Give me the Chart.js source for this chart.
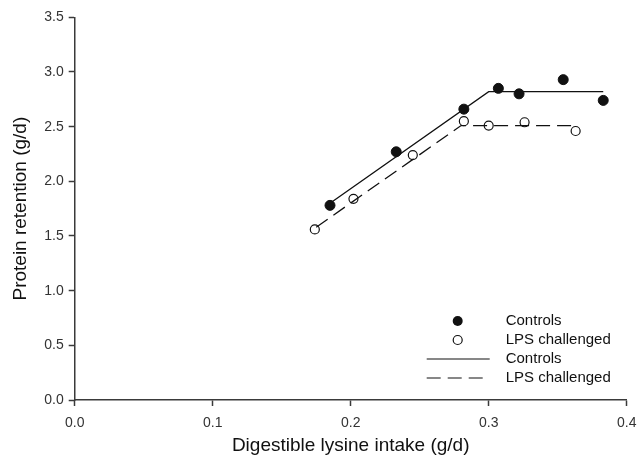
<!DOCTYPE html>
<html>
<head>
<meta charset="utf-8">
<title>Protein retention vs lysine intake</title>
<script src="https://cdn.jsdelivr.net/npm/chart.js@4.4.1/dist/chart.umd.min.js"></script>
<style>
    html, body { margin: 0; padding: 0; background: #ffffff; }
    #wrap { width: 637px; height: 455px; }
</style>
</head>
<body>
<div id="wrap"><canvas id="retentionChart" width="637" height="455"></canvas></div>
<script>
// ===== DATA =====
// observed points, digestible lysine intake (g/d) vs protein retention (g/d)
var controlX = [0.185, 0.233, 0.282, 0.307, 0.322, 0.354, 0.383];
var controlY = [1.78, 2.27, 2.66, 2.85, 2.80, 2.93, 2.74];
var lpsX = [0.174, 0.202, 0.245, 0.282, 0.300, 0.326, 0.363];
var lpsY = [1.56, 1.84, 2.24, 2.55, 2.51, 2.54, 2.46];

// broken-line fits: start, breakpoint, plateau end
var controlFitX = [0.185, 0.300, 0.383];
var controlFitY = [1.80, 2.82, 2.82];
var lpsFitX = [0.175, 0.280, 0.363];
var lpsFitY = [1.58, 2.51, 2.51];

var xTicks = [0.0, 0.1, 0.2, 0.3, 0.4];
var yTicks = [0.0, 0.5, 1.0, 1.5, 2.0, 2.5, 3.0, 3.5];

var legendLabels = ['Controls', 'LPS challenged', 'Controls', 'LPS challenged'];

var ink = '#111111';
var axisColor = '#3a3a3a';
var fontFamily = 'Arial, "Liberation Sans", Helvetica, sans-serif';

// ===== HELPERS =====
function toPoints(xs, ys) {
    return xs.map(function (x, i) { return { x: x, y: ys[i] }; });
}

// legend drawn in the lower right corner of the plot
var cornerLegend = {
    id: 'cornerLegend',
    afterDatasetsDraw: function (chart) {
        var ctx = chart.ctx;
        var area = chart.chartArea;
        var markX = area.right - 169;
        var lineX0 = area.right - 200;
        var lineX1 = area.right - 137;
        var textX = area.right - 121;
        var rowY = area.bottom - 79;
        var rowGap = 19;

        ctx.save();
        ctx.font = '15px ' + fontFamily;
        ctx.fillStyle = ink;
        ctx.textAlign = 'left';
        ctx.textBaseline = 'middle';
        for (var i = 0; i < legendLabels.length; i++) {
            var y = rowY + i * rowGap;
            ctx.strokeStyle = ink;
            ctx.lineWidth = 1.2;
            if (i === 0) {
                ctx.beginPath();
                ctx.arc(markX, y, 5, 0, Math.PI * 2);
                ctx.fill();
            } else if (i === 1) {
                ctx.beginPath();
                ctx.arc(markX, y, 4.5, 0, Math.PI * 2);
                ctx.stroke();
            } else {
                ctx.setLineDash(i === 3 ? [14, 7] : []);
                ctx.beginPath();
                ctx.moveTo(lineX0, y);
                ctx.lineTo(lineX1, y);
                ctx.stroke();
                ctx.setLineDash([]);
            }
            ctx.fillText(legendLabels[i], textX, y);
        }
        ctx.restore();
    }
};

// ===== CHART =====
function drawChart() {
    var ctx = document.getElementById('retentionChart');
    if (!ctx || typeof Chart === 'undefined') return;

    new Chart(ctx, {
        type: 'scatter',
        data: {
            datasets: [{
                label: 'Controls',
                data: toPoints(controlX, controlY),
                pointStyle: 'circle',
                pointRadius: 5,
                pointBackgroundColor: ink,
                pointBorderColor: ink,
                pointBorderWidth: 1
            }, {
                label: 'LPS challenged',
                data: toPoints(lpsX, lpsY),
                pointStyle: 'circle',
                pointRadius: 4.5,
                pointBackgroundColor: 'rgba(255,255,255,0)',
                pointBorderColor: ink,
                pointBorderWidth: 1.2
            }, {
                label: 'Controls fit',
                data: toPoints(controlFitX, controlFitY),
                showLine: true,
                pointRadius: 0,
                borderColor: ink,
                borderWidth: 1.3,
                tension: 0
            }, {
                label: 'LPS challenged fit',
                data: toPoints(lpsFitX, lpsFitY),
                showLine: true,
                pointRadius: 0,
                borderColor: ink,
                borderWidth: 1.3,
                borderDash: [14, 7],
                tension: 0
            }]
        },
        options: {
            responsive: false,
            animation: false,
            layout: { padding: { left: 0, right: 10.3, top: 17.3, bottom: 0 } },
            plugins: {
                legend: { display: false },
                tooltip: { enabled: false }
            },
            scales: {
                x: {
                    type: 'linear',
                    min: xTicks[0],
                    max: xTicks[xTicks.length - 1],
                    afterFit: function (scale) {
                        scale.height = 55;
                        scale.paddingLeft = 0;
                        scale.paddingRight = 0;
                    },
                    afterBuildTicks: function (scale) {
                        scale.ticks = xTicks.map(function (v) { return { value: v }; });
                    },
                    border: { display: true, color: axisColor, width: 1.5 },
                    grid: { drawOnChartArea: false, drawTicks: true, tickLength: 6, tickColor: axisColor, tickWidth: 1.5 },
                    ticks: {
                        padding: 9,
                        color: '#333333',
                        font: { family: fontFamily, size: 14 },
                        callback: function (v) { return Number(v).toFixed(1); }
                    },
                    title: {
                        display: true,
                        text: 'Digestible lysine intake (g/d)',
                        color: ink,
                        font: { family: fontFamily, size: 19, lineHeight: 1 },
                        padding: { top: 0, bottom: 0 }
                    }
                },
                y: {
                    type: 'linear',
                    min: yTicks[0],
                    max: yTicks[yTicks.length - 1],
                    afterFit: function (scale) {
                        scale.width = 74.7;
                        scale.paddingTop = 0;
                        scale.paddingBottom = 0;
                    },
                    afterBuildTicks: function (scale) {
                        scale.ticks = yTicks.map(function (v) { return { value: v }; });
                    },
                    border: { display: true, color: axisColor, width: 1.5 },
                    grid: { drawOnChartArea: false, drawTicks: true, tickLength: 6, tickColor: axisColor, tickWidth: 1.5 },
                    ticks: {
                        padding: 5,
                        color: '#333333',
                        font: { family: fontFamily, size: 14 },
                        callback: function (v) { return Number(v).toFixed(1); }
                    },
                    title: {
                        display: true,
                        text: 'Protein retention (g/d)',
                        color: ink,
                        font: { family: fontFamily, size: 19, lineHeight: 1 },
                        padding: { top: 11.5, bottom: 0 }
                    }
                }
            }
        },
        plugins: [cornerLegend]
    });
}

// ===== INITIALIZATION =====
document.addEventListener('DOMContentLoaded', function () {
    drawChart();
});
</script>
</body>
</html>
